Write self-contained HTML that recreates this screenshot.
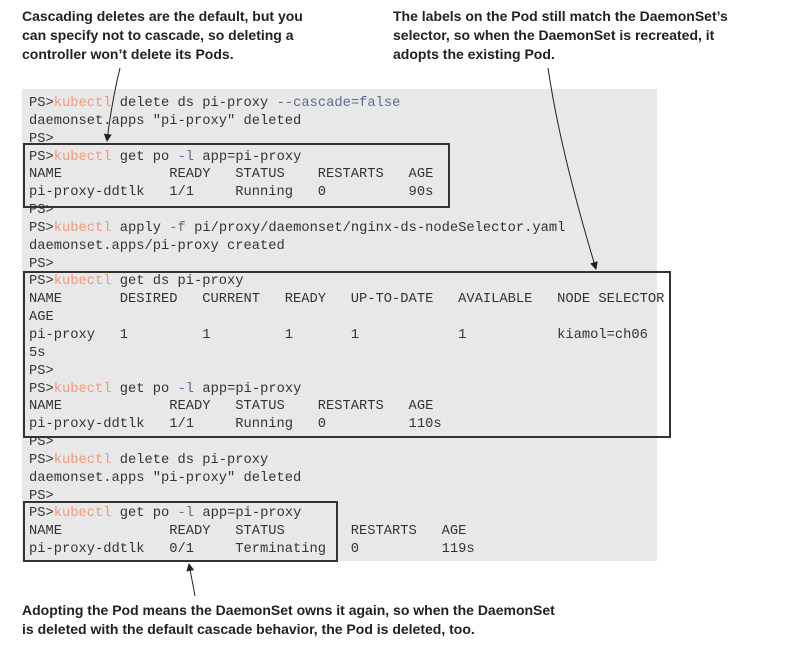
<!DOCTYPE html>
<html><head><meta charset="utf-8"><style>
body{margin:0;width:787px;height:646px;background:#fff;position:relative;overflow:hidden}
.ann{position:absolute;font-family:"Liberation Sans",sans-serif;font-weight:bold;font-size:14px;line-height:19px;color:#222}
#panel{position:absolute;left:22px;top:89px;width:635px;height:472px;background:#e8e8e8}
pre{position:absolute;left:29px;top:95px;margin:0;font-family:"Liberation Mono",monospace;font-size:13.75px;line-height:17.85px;color:#333}
.k{color:#f29a78}.o{color:#5c6c8c}
.box{position:absolute;border:2px solid #333;box-sizing:border-box}
</style></head><body>
<div class="ann" style="left:22px;top:7px">Cascading deletes are the default, but you<br>can specify not to cascade, so deleting a<br>controller won’t delete its Pods.</div>
<div class="ann" style="left:393px;top:7px">The labels on the Pod still match the DaemonSet’s<br>selector, so when the DaemonSet is recreated, it<br>adopts the existing Pod.</div>
<div class="ann" style="left:22px;top:601px">Adopting the Pod means the DaemonSet owns it again, so when the DaemonSet<br>is deleted with the default cascade behavior, the Pod is deleted, too.</div>
<div id="panel"></div>
<pre>PS&gt;<span class="k">kubectl</span> delete ds pi-proxy <span class="o">--cascade=false</span>
daemonset.apps "pi-proxy" deleted
PS&gt;
PS&gt;<span class="k">kubectl</span> get po <span class="o">-l</span> app=pi-proxy
NAME             READY   STATUS    RESTARTS   AGE
pi-proxy-ddtlk   1/1     Running   0          90s
PS&gt;
PS&gt;<span class="k">kubectl</span> apply <span class="o">-f</span> pi/proxy/daemonset/nginx-ds-nodeSelector.yaml
daemonset.apps/pi-proxy created
PS&gt;
PS&gt;<span class="k">kubectl</span> get ds pi-proxy
NAME       DESIRED   CURRENT   READY   UP-TO-DATE   AVAILABLE   NODE SELECTOR
AGE
pi-proxy   1         1         1       1            1           kiamol=ch06
5s
PS&gt;
PS&gt;<span class="k">kubectl</span> get po <span class="o">-l</span> app=pi-proxy
NAME             READY   STATUS    RESTARTS   AGE
pi-proxy-ddtlk   1/1     Running   0          110s
PS&gt;
PS&gt;<span class="k">kubectl</span> delete ds pi-proxy
daemonset.apps "pi-proxy" deleted
PS&gt;
PS&gt;<span class="k">kubectl</span> get po <span class="o">-l</span> app=pi-proxy
NAME             READY   STATUS        RESTARTS   AGE
pi-proxy-ddtlk   0/1     Terminating   0          119s</pre>
<div class="box" style="left:23px;top:143px;width:427px;height:65px"></div>
<div class="box" style="left:23px;top:271px;width:648px;height:167px"></div>
<div class="box" style="left:23px;top:501px;width:315px;height:61px"></div>
<svg width="787" height="646" style="position:absolute;left:0;top:0">
<defs><marker id="a" markerWidth="8" markerHeight="8" refX="7" refY="4" orient="auto" markerUnits="userSpaceOnUse"><path d="M0,0 L8,4 L0,8 z" fill="#222"/></marker></defs>
<path d="M120,68 Q112,100 107,141" stroke="#222" fill="none" stroke-width="1" marker-end="url(#a)"/>
<path d="M548,68 Q560,150 596,269" stroke="#222" fill="none" stroke-width="1" marker-end="url(#a)"/>
<path d="M195,596 Q192,580 189,564" stroke="#222" fill="none" stroke-width="1" marker-end="url(#a)"/>
</svg>
</body></html>
